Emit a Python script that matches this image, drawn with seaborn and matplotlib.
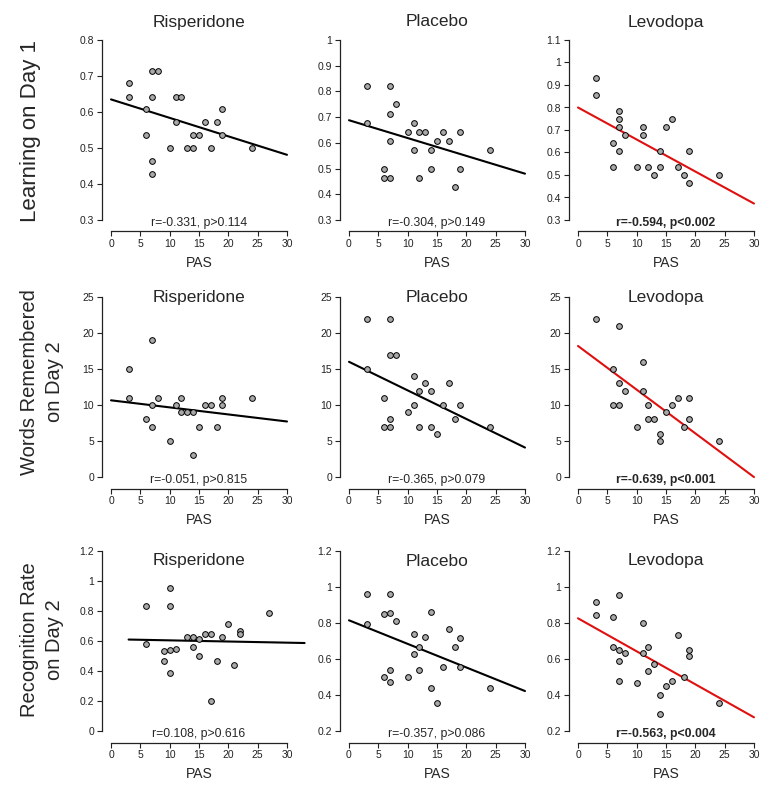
import numpy as np
import pandas as pd
import seaborn as sns
import matplotlib.pyplot as plt
from matplotlib.ticker import FuncFormatter

sns.set_theme(style='ticks')
plt.rcParams['font.family'] = ['Liberation Sans', 'DejaVu Sans']

drugs = ['Risperidone', 'Placebo', 'Levodopa']
measures = ['Learning on Day 1', 'Words Remembered\non Day 2', 'Recognition Rate\non Day 2']

# Learning on Day 1
learn_ris_pas = [3, 3, 7, 8, 7, 6, 6, 7, 7, 10, 11, 12, 11, 13, 14, 14, 15, 16, 17, 18, 19, 19, 24]
learn_ris = [0.680, 0.643, 0.714, 0.714, 0.643, 0.607, 0.536, 0.464, 0.429, 0.500, 0.643, 0.643,
             0.571, 0.500, 0.536, 0.500, 0.536, 0.571, 0.500, 0.571, 0.607, 0.536, 0.500]
learn_pla_pas = [3, 3, 7, 8, 7, 7, 6, 6, 7, 10, 11, 11, 12, 13, 12, 14, 14, 15, 16, 17, 18, 19, 19, 24]
learn_pla = [0.821, 0.679, 0.821, 0.750, 0.714, 0.607, 0.500, 0.464, 0.464, 0.643, 0.679, 0.571,
             0.643, 0.643, 0.464, 0.571, 0.500, 0.607, 0.643, 0.607, 0.429, 0.643, 0.500, 0.571]
learn_levo_pas = [3, 3, 7, 7, 7, 8, 6, 7, 6, 10, 11, 11, 12, 13, 14, 14, 15, 16, 17, 18, 19, 19, 24]
learn_levo = [0.929, 0.857, 0.786, 0.750, 0.714, 0.679, 0.643, 0.607, 0.536, 0.536, 0.714, 0.679,
              0.536, 0.500, 0.607, 0.536, 0.714, 0.750, 0.536, 0.500, 0.607, 0.464, 0.500]

# Words remembered on Day 2
words_ris_pas = [3, 3, 7, 8, 7, 6, 7, 10, 11, 12, 12, 13, 14, 14, 15, 16, 17, 18, 19, 19, 24]
words_ris = [15, 11, 19, 11, 10, 8, 7, 5, 10, 11, 9, 9, 9, 3, 7, 10, 10, 7, 11, 10, 11]
words_pla_pas = [3, 3, 7, 7, 8, 6, 6, 7, 7, 10, 11, 11, 12, 12, 13, 14, 14, 15, 16, 17, 18, 19, 24]
words_pla = [22, 15, 22, 17, 17, 11, 7, 8, 7, 9, 14, 10, 12, 7, 13, 12, 7, 6, 10, 13, 8, 10, 7]
words_levo_pas = [3, 7, 11, 6, 7, 8, 11, 6, 7, 12, 10, 12, 13, 15, 16, 17, 19, 19, 18, 14, 14, 24]
words_levo = [22, 21, 16, 15, 13, 12, 12, 10, 10, 10, 7, 8, 8, 9, 10, 11, 11, 8, 7, 6, 5, 5]

# Recognition rate on Day 2
recog_ris_pas = [6, 6, 10, 10, 9, 9, 10, 10, 11, 13, 14, 14, 15, 15, 16, 17, 17, 18, 19, 20, 21, 22, 22, 27]
recog_ris = [0.833, 0.577, 0.951, 0.833, 0.532, 0.470, 0.539, 0.388, 0.550, 0.624, 0.624, 0.557,
             0.612, 0.501, 0.644, 0.644, 0.198, 0.468, 0.624, 0.715, 0.437, 0.670, 0.648, 0.786]
recog_pla_pas = [3, 3, 7, 6, 7, 8, 6, 7, 7, 10, 11, 11, 12, 12, 13, 14, 14, 15, 16, 17, 18, 19, 19, 24]
recog_pla = [0.959, 0.793, 0.959, 0.848, 0.854, 0.811, 0.502, 0.541, 0.472, 0.502, 0.737, 0.626,
             0.669, 0.541, 0.724, 0.859, 0.439, 0.354, 0.556, 0.767, 0.669, 0.717, 0.556, 0.439]
recog_levo_pas = [3, 3, 7, 6, 6, 7, 8, 7, 7, 10, 11, 11, 12, 12, 13, 14, 14, 15, 16, 17, 18, 19, 19, 24]
recog_levo = [0.917, 0.846, 0.956, 0.833, 0.667, 0.650, 0.631, 0.589, 0.476, 0.467, 0.802, 0.631,
              0.667, 0.533, 0.572, 0.400, 0.294, 0.450, 0.476, 0.733, 0.500, 0.648, 0.615, 0.357]

stats = [['r=-0.331, p>0.114', 'r=-0.304, p>0.149', 'r=-0.594, p<0.002'],
         ['r=-0.051, p>0.815', 'r=-0.365, p>0.079', 'r=-0.639, p<0.001'],
         ['r=0.108, p>0.616', 'r=-0.357, p>0.086', 'r=-0.563, p<0.004']]

# regression lines as drawn in the figure (value at PAS=0, slope per PAS point)
fit_intercept = [[0.635, 0.688, 0.800],
                 [10.65, 16.0, 18.2],
                 [0.612, 0.815, 0.826]]
fit_slope = [[-0.00513, -0.00693, -0.01423],
             [-0.098, -0.397, -0.607],
             [-0.00077, -0.0131, -0.01833]]
# PAS span of each fitted line
fit_span = [[(0, 30), (0, 30), (0, 30)],
            [(0, 30), (0, 30), (0, 30)],
            [(3, 33), (0, 30), (0, 30)]]

# y axis ranges and tick steps
y_ranges = [[(0.3, 0.8), (0.3, 1.0), (0.3, 1.1)],
            [(0, 25), (0, 25), (0, 25)],
            [(0, 1.2), (0.2, 1.2), (0.2, 1.2)]]
y_steps = [0.1, 5, 0.2]

panels = [[(learn_ris_pas, learn_ris), (learn_pla_pas, learn_pla), (learn_levo_pas, learn_levo)],
          [(words_ris_pas, words_ris), (words_pla_pas, words_pla), (words_levo_pas, words_levo)],
          [(recog_ris_pas, recog_ris), (recog_pla_pas, recog_pla), (recog_levo_pas, recog_levo)]]

# layout in pixels
W, H = 773, 801
col_spine = [102, 340, 569]
x_gap, x_len = 9, 176
row_top_tick = [40, 297, 551]
y_len, y_gap = 180, 11.5
title_y = [22, 297, 561]
label_y = [131, 382, 640]
label_x = [31, 42, 42]
label_size = [16, 14.5, 14.5]

fig = plt.figure(figsize=(W / 100, H / 100), dpi=100)

fmt = FuncFormatter(lambda v, p: f'{v:g}')

for i in range(3):
    for j in range(3):
        left = col_spine[j]
        width = x_gap * 2 + x_len
        top = row_top_tick[i] - y_gap
        height = y_len + 2 * y_gap
        ax = fig.add_axes([left / W, 1 - (top + height) / H, width / W, height / H])

        pas, vals = panels[i][j]
        df = pd.DataFrame({'PAS': pas, 'value': vals})
        color = '#e01010' if j == 2 else 'black'

        xs = np.array(fit_span[i][j], dtype=float)
        ax.plot(xs, fit_intercept[i][j] + fit_slope[i][j] * xs, color=color, lw=1.5,
                clip_on=False, zorder=2)

        sns.scatterplot(data=df, x='PAS', y='value', ax=ax, color='#a9a9a9',
                        edgecolor='black', linewidth=0.7, s=17, zorder=3, clip_on=False)

        lo, hi = y_ranges[i][j]
        pad_y = y_gap / y_len * (hi - lo)
        pad_x = x_gap / x_len * 30
        ax.set_xlim(-pad_x, 30 + pad_x)
        ax.set_ylim(lo - pad_y, hi + pad_y)
        ax.set_xticks(np.arange(0, 31, 5))
        ax.set_yticks(np.arange(lo, hi + y_steps[i] / 2, y_steps[i]))
        ax.yaxis.set_major_formatter(fmt)

        sns.despine(ax=ax)
        ax.spines['left'].set_bounds(lo, hi)
        ax.spines['bottom'].set_bounds(0, 30)
        for s in ['left', 'bottom']:
            ax.spines[s].set_color('#222222')
            ax.spines[s].set_linewidth(0.9)
        ax.tick_params(length=3.6, width=0.8, pad=2, labelsize=7.5, colors='#222222')

        ax.set_xlabel('PAS', fontsize=10, labelpad=5)
        ax.set_ylabel('')

        ax.text(0.5, 1 - (title_y[i] - top) / height, drugs[j], transform=ax.transAxes,
                ha='center', va='center', fontsize=12.5)
        ax.text(15, y_gap * 0.77 / height, stats[i][j],
                transform=ax.get_xaxis_transform(), ha='center', va='center',
                fontsize=8.8, fontweight='bold' if j == 2 else 'normal')

for i in range(3):
    fig.text(label_x[i] / W, 1 - label_y[i] / H, measures[i], rotation=90,
             ha='center', va='center', fontsize=label_size[i], linespacing=1.4,
             multialignment='center')

plt.savefig('out.png', dpi=100)
